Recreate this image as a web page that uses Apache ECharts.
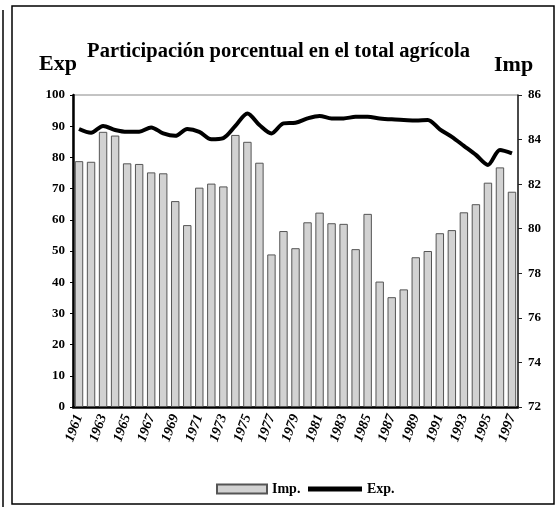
<!DOCTYPE html>
<html>
<head>
<meta charset="utf-8">
<script src="https://cdn.jsdelivr.net/npm/echarts@6/dist/echarts.min.js"></script>
<style>
  html, body { margin: 0; padding: 0; background: #fff; }
  #chart { width: 557px; height: 507px; }
</style>
</head>
<body>
<div id="chart"></div>
<script>
// años 1961-1997
var years = [];
for (var y = 1961; y <= 1997; y++) years.push(String(y));

// Imp. (barras) - eje izquierdo
var impData = [78.8, 78.6, 88.2, 87.0, 78.1, 77.9, 75.2, 74.9, 66.0, 58.3,
               70.3, 71.6, 70.7, 87.2, 85.0, 78.3, 48.9, 56.4, 50.9, 59.2,
               62.3, 58.9, 58.7, 50.6, 61.9, 40.2, 35.2, 37.7, 48.0, 50.0,
               55.7, 56.7, 62.4, 65.0, 71.9, 76.8, 69.0];

// Exp. (línea)
var expData = [89.1, 87.9, 90.1, 88.8, 88.2, 88.2, 89.6, 87.7, 86.9, 89.1,
               88.2, 85.8, 86.2, 90.1, 94.1, 90.4, 87.7, 90.9, 91.1, 92.5,
               93.3, 92.5, 92.5, 93.0, 93.0, 92.5, 92.2, 92.0, 91.8, 92.0,
               89.0, 86.6, 83.7, 80.8, 77.6, 82.4, 81.3];

var serif = '"Liberation Serif", "DejaVu Serif", serif';

var myChart = echarts.init(document.getElementById('chart'));
myChart.setOption({
    backgroundColor: '#fff',
    animation: false,
    title: {
        text: 'Participación porcentual en el total agrícola',
        left: 'center',
        top: 36,
        textStyle: { fontFamily: serif, fontWeight: 'bold', fontSize: 20.5, color: '#000' }
    },
    graphic: [
        { type: 'rect', shape: { x: 12, y: 6, width: 542, height: 498 }, style: { fill: 'none', stroke: '#000', lineWidth: 1.5 } },
        { type: 'line', shape: { x1: 3, y1: 10, x2: 3, y2: 507 }, style: { stroke: '#000', lineWidth: 1.5 } },
        { type: 'text', left: 39, top: 53, style: { text: 'Exp', font: 'bold 22px ' + serif, fill: '#000' } },
        { type: 'text', left: 494, top: 54, style: { text: 'Imp', font: 'bold 22px ' + serif, fill: '#000' } }
    ],
    legend: [
        {
            data: [{ name: 'Imp.', icon: 'rect' }],
            left: 211, top: 477,
            itemWidth: 50, itemHeight: 9, itemGap: 4,
            textStyle: { fontFamily: serif, fontWeight: 'bold', fontSize: 14, color: '#000' }
        },
        {
            data: [{ name: 'Exp.', icon: 'rect' }],
            left: 303, top: 477,
            itemWidth: 54, itemHeight: 5, itemGap: 1,
            textStyle: { fontFamily: serif, fontWeight: 'bold', fontSize: 14, color: '#000' }
        }
    ],
    grid: {
        left: 73, right: 39, top: 95, bottom: 100,
        show: true, borderColor: '#888', borderWidth: 1
    },
    xAxis: {
        type: 'category',
        data: years,
        boundaryGap: true,
        axisLine: { lineStyle: { color: '#000', width: 2.5 } },
        axisTick: { show: false },
        axisLabel: {
            interval: 1,
            rotate: 70,
            margin: 8,
            fontFamily: serif,
            fontWeight: 'bold',
            fontStyle: 'italic',
            fontSize: 14,
            color: '#000'
        }
    },
    yAxis: [
        {
            type: 'value',
            min: 0, max: 100, interval: 10,
            splitLine: { show: false },
            axisLine: { show: true, lineStyle: { color: '#000', width: 2.5 } },
            axisTick: { show: true, length: 3, lineStyle: { color: '#000' } },
            axisLabel: { margin: 8, fontFamily: serif, fontWeight: 'bold', fontSize: 13, color: '#000' }
        },
        {
            type: 'value',
            min: 72, max: 86, interval: 2,
            position: 'right',
            splitLine: { show: false },
            axisLine: { show: true, lineStyle: { color: '#222', width: 1.5 } },
            axisTick: { show: true, length: 4, lineStyle: { color: '#222' } },
            axisLabel: { margin: 10, fontFamily: serif, fontWeight: 'bold', fontSize: 13, color: '#000' }
        }
    ],
    series: [
        {
            name: 'Imp.',
            type: 'bar',
            yAxisIndex: 0,
            barCategoryGap: '30%',
            itemStyle: { color: '#d2d2d2', borderColor: '#555', borderWidth: 1 },
            data: impData
        },
        {
            name: 'Exp.',
            type: 'line',
            yAxisIndex: 0,
            symbol: 'none',
            smooth: 0.3,
            itemStyle: { color: '#000' },
            lineStyle: { color: '#000', width: 4 },
            data: expData
        }
    ]
});
</script>
</body>
</html>
